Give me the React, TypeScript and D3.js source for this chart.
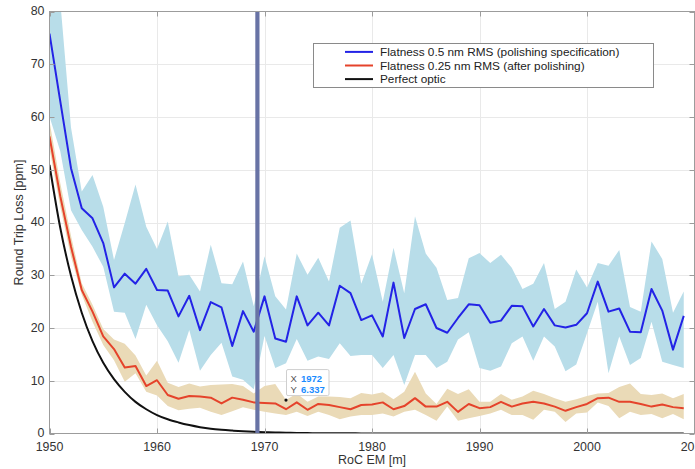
import { useEffect, useRef } from 'react';
import * as d3 from 'd3';

// RoC EM [m], one sample per metre
const years = d3.range(1950, 2010);

// Flatness 0.5 nm RMS (polishing specification)
const specMean = [
  75.8, 63.0, 50.3, 42.7, 40.8, 36.1, 27.7, 30.3, 28.4, 31.2,
  27.2, 27.1, 22.2, 26.1, 19.6, 24.9, 23.9, 16.6, 23.2, 19.3,
  26.0, 18.0, 17.4, 26.0, 20.5, 22.9, 20.5, 28.0, 26.6, 21.5,
  22.4, 18.4, 28.6, 18.1, 23.6, 24.5, 20.0, 19.1, 21.9, 24.5,
  24.3, 21.0, 21.4, 24.2, 24.1, 20.3, 23.6, 20.5, 20.1, 20.6,
  22.8, 28.8, 23.1, 23.7, 19.3, 19.2, 27.4, 23.3, 15.9, 22.3,
];
const specUpper = [
  90.0, 82.0, 58.0, 45.9, 49.0, 43.0, 32.9, 39.9, 47.2, 39.2,
  35.0, 40.2, 29.8, 30.1, 26.9, 35.8, 28.5, 28.3, 32.6, 24.1,
  33.6, 26.0, 23.5, 34.1, 30.1, 33.3, 28.8, 39.0, 40.4, 28.4,
  34.0, 25.0, 35.2, 26.6, 41.2, 34.1, 31.4, 25.3, 25.7, 33.2,
  34.2, 32.3, 33.9, 31.4, 27.4, 28.4, 32.3, 23.6, 25.0, 31.1,
  27.7, 32.3, 31.8, 34.8, 24.0, 23.1, 36.4, 33.1, 22.9, 26.9,
];
const specLower = [
  60.1, 53.5, 42.3, 38.6, 35.4, 31.6, 23.1, 22.9, 17.9, 24.4,
  20.5, 17.5, 13.4, 19.6, 11.9, 14.9, 17.2, 10.8, 10.2, 8.4,
  18.5, 12.4, 13.3, 17.9, 13.8, 14.6, 14.1, 17.1, 14.7, 14.9,
  14.9, 12.4, 14.9, 9.2, 14.9, 14.9, 12.4, 13.6, 17.8, 19.2,
  12.4, 11.9, 12.7, 17.1, 18.4, 13.8, 18.4, 16.5, 11.8, 13.1,
  19.0, 25.0, 11.4, 18.4, 13.0, 14.3, 21.2, 13.6, 13.0, 12.4,
];

// Flatness 0.25 nm RMS (after polishing)
const polishedMean = [
  56.3, 45.0, 35.4, 27.2, 23.1, 18.4, 16.0, 12.5, 12.8, 9.0,
  10.1, 7.3, 6.6, 7.1, 7.0, 6.8, 5.7, 6.8, 6.4, 5.9,
  5.8, 5.7, 4.6, 5.9, 4.5, 5.6, 5.4, 5.0, 4.6, 5.4,
  5.5, 5.9, 4.6, 5.2, 6.7, 5.1, 5.1, 6.0, 4.1, 5.6,
  4.8, 5.0, 6.0, 5.1, 5.7, 6.0, 5.7, 5.1, 4.3, 5.0,
  5.6, 6.7, 6.8, 6.0, 6.0, 5.6, 5.1, 5.5, 5.0, 4.8,
];
const polishedUpper = [
  59.2, 47.5, 37.5, 28.5, 24.4, 19.8, 17.8, 17.0, 14.8, 11.0,
  13.8, 9.6, 8.8, 9.5, 8.9, 9.2, 9.3, 9.4, 9.0, 7.6,
  9.0, 9.4, 6.34, 7.6, 6.0, 7.0, 7.0, 6.9, 6.7, 7.7,
  7.4, 7.8, 6.5, 7.9, 11.7, 7.6, 5.6, 8.5, 7.5, 8.4,
  6.0, 6.0, 7.5, 6.4, 7.0, 8.1, 7.5, 6.7, 6.0, 6.5,
  7.1, 7.6, 7.7, 8.8, 9.5, 7.5, 7.3, 7.6, 6.7, 7.5,
];
const polishedLower = [
  54.0, 43.0, 33.5, 26.3, 21.2, 16.8, 13.9, 9.8, 11.4, 7.9,
  7.2, 5.2, 4.4, 4.7, 4.9, 4.1, 3.5, 4.2, 5.0, 4.5,
  4.1, 3.8, 3.5, 4.1, 3.3, 4.1, 3.5, 2.7, 3.2, 3.5,
  3.5, 3.8, 3.2, 4.1, 4.5, 3.5, 2.4, 5.1, 2.4, 2.9,
  3.3, 3.8, 4.5, 3.5, 3.5, 2.6, 4.5, 4.1, 2.2, 3.8,
  4.0, 5.9, 5.2, 2.9, 4.1, 3.5, 3.7, 2.9, 3.7, 2.7,
];

// Perfect optic
const perfect = [
  50.9, 39.0, 29.9, 22.9, 17.5, 13.4, 10.3, 7.9, 6.0, 4.6,
  3.5, 2.7, 2.1, 1.6, 1.2, 0.9, 0.7, 0.55, 0.42, 0.32,
  0.25, 0.19, 0.14, 0.11, 0.08, 0.06, 0.05, 0.04, 0.03, 0.02,
  0.02, 0.02, 0.01, 0.01, 0.01, 0.01, 0.01, 0.01, 0.01, 0.01,
  0.0, 0.0, 0.0, 0.0, 0.0, 0.0, 0.0, 0.0, 0.0, 0.0,
  0.0, 0.0, 0.0, 0.0, 0.0, 0.0, 0.0, 0.0, 0.0, 0.0,
];

const xTicks = [1950, 1960, 1970, 1980, 1990, 2000, 2010];
const yTicks = [0, 10, 20, 30, 40, 50, 60, 70, 80];

const legendLabels = [
  'Flatness 0.5 nm RMS (polishing specification)',
  'Flatness 0.25 nm RMS (after polishing)',
  'Perfect optic',
];
const legendColors = ['#2323e6', '#e5432b', '#111111'];

const markerX = 1969.34;
const tipX = 1972;
const tipY = 6.337;

export default function App() {
  const svgRef = useRef<SVGSVGElement>(null);

  useEffect(() => {
    const width = 695;
    const height = 469;
    const font = '"Liberation Sans", Arial, Helvetica, sans-serif';
    const axisColor = '#9c9c9c';
    const textColor = '#333333';

    const svg = d3.select(svgRef.current);
    svg.selectAll('*').remove();
    svg
      .attr('width', width)
      .attr('height', height)
      .attr('viewBox', `0 0 ${width} ${height}`)
      .style('font-family', font);

    const x = d3.scaleLinear().domain([1950, 2010]).range([49.5, 694.5]);
    const y = d3.scaleLinear().domain([0, 80]).range([433.5, 11.5]);
    const [x0, x1] = x.range();
    const [y0, y1] = y.range();

    svg
      .append('defs')
      .append('clipPath')
      .attr('id', 'plot-clip')
      .append('rect')
      .attr('x', x0)
      .attr('y', y1)
      .attr('width', x1 - x0)
      .attr('height', y0 - y1);

    // grid
    const grid = svg.append('g').attr('stroke', '#e9e9e9').attr('stroke-width', 1);
    grid
      .selectAll('.gx')
      .data(xTicks.slice(1, -1))
      .enter()
      .append('line')
      .attr('x1', (d) => Math.round(x(d)) + 0.5)
      .attr('x2', (d) => Math.round(x(d)) + 0.5)
      .attr('y1', y1)
      .attr('y2', y0);
    grid
      .selectAll('.gy')
      .data(yTicks.slice(1, -1))
      .enter()
      .append('line')
      .attr('x1', x0)
      .attr('x2', x1)
      .attr('y1', (d) => Math.round(y(d)) + 0.5)
      .attr('y2', (d) => Math.round(y(d)) + 0.5);

    const plot = svg.append('g').attr('clip-path', 'url(#plot-clip)');

    const band = (upper: number[], lower: number[]) =>
      d3
        .area<number>()
        .x((d) => x(d))
        .y0((_, i) => y(lower[i]))
        .y1((_, i) => y(upper[i]));

    plot
      .append('path')
      .datum(years)
      .attr('d', band(specUpper, specLower))
      .attr('fill', '#b8dde9');
    plot
      .append('path')
      .datum(years)
      .attr('d', band(polishedUpper, polishedLower))
      .attr('fill', '#eadab7');

    const line = (vals: number[], curve = d3.curveLinear) =>
      d3
        .line<number>()
        .x((d) => x(d))
        .y((_, i) => y(vals[i]))
        .curve(curve);

    plot
      .append('path')
      .datum(years)
      .attr('d', line(specMean))
      .attr('fill', 'none')
      .attr('stroke', legendColors[0])
      .attr('stroke-width', 2)
      .attr('stroke-linejoin', 'round');
    plot
      .append('path')
      .datum(years)
      .attr('d', line(polishedMean))
      .attr('fill', 'none')
      .attr('stroke', legendColors[1])
      .attr('stroke-width', 2)
      .attr('stroke-linejoin', 'round');
    plot
      .append('path')
      .datum(years)
      .attr('d', line(perfect, d3.curveMonotoneX))
      .attr('fill', 'none')
      .attr('stroke', legendColors[2])
      .attr('stroke-width', 2);

    // vertical marker
    plot
      .append('line')
      .attr('x1', x(markerX))
      .attr('x2', x(markerX))
      .attr('y1', y1)
      .attr('y2', y0)
      .attr('stroke', '#6873a5')
      .attr('stroke-width', 4.2);

    // axes box and ticks
    const ax = svg.append('g').attr('stroke', axisColor).attr('stroke-width', 1).attr('fill', 'none');
    ax.append('rect')
      .attr('x', x0)
      .attr('y', y1)
      .attr('width', x1 - x0)
      .attr('height', y0 - y1);
    xTicks.forEach((t) => {
      const px = Math.round(x(t)) + 0.5;
      ax.append('line').attr('x1', px).attr('x2', px).attr('y1', y0).attr('y2', y0 - 5);
      ax.append('line').attr('x1', px).attr('x2', px).attr('y1', y1).attr('y2', y1 + 5);
    });
    yTicks.forEach((t) => {
      const py = Math.round(y(t)) + 0.5;
      ax.append('line').attr('x1', x0).attr('x2', x0 + 5).attr('y1', py).attr('y2', py);
      ax.append('line').attr('x1', x1).attr('x2', x1 - 5).attr('y1', py).attr('y2', py);
    });

    // tick labels
    svg
      .append('g')
      .selectAll('text')
      .data(xTicks)
      .enter()
      .append('text')
      .attr('x', (d) => x(d))
      .attr('y', 450.5)
      .attr('text-anchor', 'middle')
      .style('font-size', '12.4px')
      .style('fill', textColor)
      .text((d) => d);
    svg
      .append('g')
      .selectAll('text')
      .data(yTicks)
      .enter()
      .append('text')
      .attr('x', 44.5)
      .attr('y', (d) => y(d))
      .attr('dy', '0.32em')
      .attr('text-anchor', 'end')
      .style('font-size', '12.4px')
      .style('fill', textColor)
      .text((d) => d);

    // axis titles
    svg
      .append('text')
      .attr('x', (x0 + x1) / 2)
      .attr('y', 464)
      .attr('text-anchor', 'middle')
      .style('font-size', '12.5px')
      .style('fill', textColor)
      .text('RoC EM [m]');
    svg
      .append('text')
      .attr('transform', `translate(23,${(y0 + y1) / 2}) rotate(-90)`)
      .attr('text-anchor', 'middle')
      .style('font-size', '12.5px')
      .style('fill', textColor)
      .text('Round Trip Loss [ppm]');

    // legend
    const lg = svg.append('g');
    lg.append('rect')
      .attr('x', 313.5)
      .attr('y', 43.5)
      .attr('width', 340)
      .attr('height', 44)
      .attr('fill', '#ffffff')
      .attr('stroke', '#8a8a8a');
    legendLabels.forEach((label, i) => {
      const ly = 51.9 + i * 13.6;
      lg.append('line')
        .attr('x1', 345)
        .attr('x2', 373)
        .attr('y1', ly)
        .attr('y2', ly)
        .attr('stroke', legendColors[i])
        .attr('stroke-width', 2);
      lg.append('text')
        .attr('x', 380)
        .attr('y', ly)
        .attr('dy', '0.35em')
        .style('font-size', '11.8px')
        .style('fill', '#222222')
        .text(label);
    });

    // data tip
    const tx = x(tipX);
    const ty = y(tipY);
    const tip = svg.append('g');
    tip.append('rect')
      .attr('x', tx + 0.5)
      .attr('y', ty - 30.5)
      .attr('width', 42.5)
      .attr('height', 26)
      .attr('rx', 1.5)
      .attr('fill', '#ffffff')
      .attr('stroke', '#cfcfcf');
    [
      ['X', String(tipX)],
      ['Y', String(tipY)],
    ].forEach(([k, v], i) => {
      const t = tip
        .append('text')
        .attr('x', tx + 4.5)
        .attr('y', ty - 18.5 + i * 11)
        .style('font-size', '9.5px');
      t.append('tspan').style('fill', '#555555').text(k);
      t.append('tspan')
        .attr('x', tx + 15)
        .style('fill', '#1a8cff')
        .style('font-weight', 'bold')
        .text(v);
    });
    tip.append('circle').attr('cx', tx).attr('cy', ty).attr('r', 1.6).attr('fill', '#111111');
  }, []);

  return (
    <svg
      ref={svgRef}
      style={{ position: 'absolute', left: 0, top: 0, display: 'block', background: '#ffffff' }}
    ></svg>
  );
}
